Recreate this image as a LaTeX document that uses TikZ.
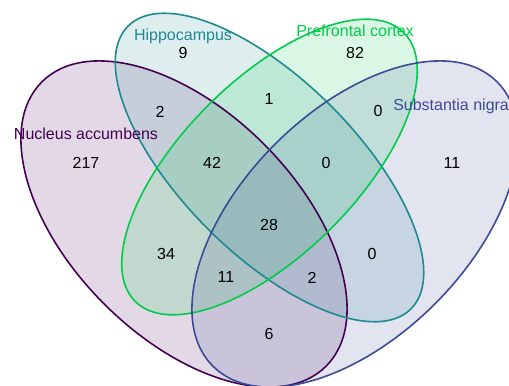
\documentclass[tikz,border=0pt]{standalone}
\usepackage{fontspec}
\setmainfont{Liberation Sans}
\usepackage{tikz}
\usetikzlibrary{positioning}
\definecolor{nacc}{HTML}{440154}
\definecolor{hipp}{HTML}{1F8A90}
\definecolor{pfc}{HTML}{00CC4A}
\definecolor{snig}{HTML}{3B4B96}
\tikzstyle{setfill} = [fill opacity=0.15]
\tikzstyle{setline} = [line width=1.2pt]
\tikzstyle{count} = [font=\fontsize{12}{14}\selectfont, inner sep=0pt, text=black]
\tikzstyle{setname} = [font=\fontsize{12}{14}\selectfont, inner sep=0pt]

\begin{document}
\begin{tikzpicture}[x=0.75pt, y=-0.75pt]
\useasboundingbox (0,0) rectangle (509,385);
% centres of the four sets
\coordinate (cNacc) at (184,224);
\coordinate (cHipp) at (269.5,167.5);
\coordinate (cPfc) at (269.5,167);
\coordinate (cSnig) at (355,224);

% fills first
\fill [setfill, nacc, rotate around={-45:(cNacc)}] (cNacc) ellipse [x radius=201, y radius=113];
\fill [setfill, hipp, rotate around={-45:(cHipp)}] (cHipp) ellipse [x radius=200, y radius=87];
\fill [setfill, pfc, rotate around={45:(cPfc)}] (cPfc) ellipse [x radius=190, y radius=87];
\fill [setfill, snig, rotate around={45:(cSnig)}] (cSnig) ellipse [x radius=201, y radius=113];

% outlines
\draw [setline, nacc, rotate around={-45:(cNacc)}] (cNacc) ellipse [x radius=201, y radius=113];
\draw [setline, hipp, rotate around={-45:(cHipp)}] (cHipp) ellipse [x radius=200, y radius=87];
\draw [setline, pfc, rotate around={45:(cPfc)}] (cPfc) ellipse [x radius=190, y radius=87];
\draw [setline, snig, rotate around={45:(cSnig)}] (cSnig) ellipse [x radius=201, y radius=113];

% set names
\node (nNacc) [setname, text=nacc] at (86,134) {Nucleus accumbens};
\node (nHipp) [setname, text=hipp] at (183,36) {Hippocampus};
\node (nPfc) [setname, text=pfc] at (355,31) {Prefrontal cortex};
\node (nSnig) [setname, text=snig, anchor=west] at (393,106) {Substantia nigra};

% counts
\node (n217) [count] at (86,163) {217};
\node (n9) [count] at (183,53) {9};
\node (n82) [count] at (355,53) {82};
\node (n11a) [count] at (452,163) {11};
\node (n2a) [count] at (160,112) {2};
\node (n1) [count] at (269,99) {1};
\node (n0a) [count] at (378,111) {0};
\node (n42) [count] at (212,163) {42};
\node (n0b) [count] at (326,163) {0};
\node (n28) [count] at (269,225) {28};
\node (n34) [count] at (166,254) {34};
\node (n0c) [count] at (372,254) {0};
\node (n11b) [count] at (226,277) {11};
\node (n2b) [count] at (312,278) {2};
\node (n6) [count] at (269,334) {6};
\end{tikzpicture}
\end{document}
